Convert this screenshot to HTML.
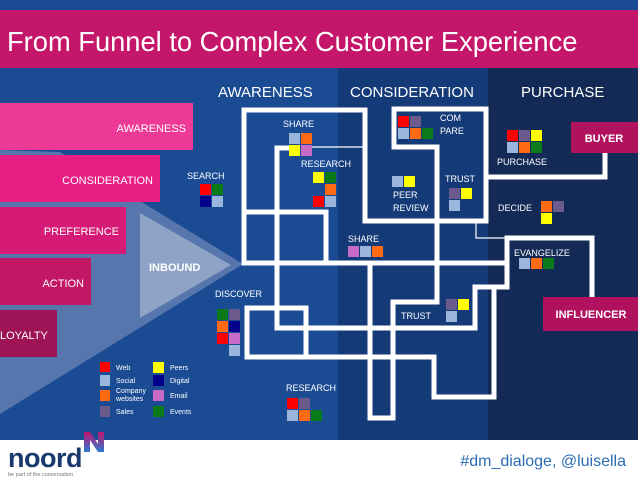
<!DOCTYPE html>
<html><head><meta charset="utf-8"><style>
html,body{margin:0;padding:0;background:#fff}
svg{display:block}
text{font-family:"Liberation Sans",sans-serif}
</style></head><body>
<svg width="638" height="479" viewBox="0 0 638 479" xmlns="http://www.w3.org/2000/svg">
<defs>
<linearGradient id="ng" x1="0" y1="0" x2="0" y2="1"><stop offset="0" stop-color="#c0166e"/><stop offset="1" stop-color="#2a7ad0"/></linearGradient>
</defs>
<rect x="0" y="0" width="638" height="440" fill="#1a4b93"/>
<rect x="338" y="68" width="150" height="372" fill="#153a78"/>
<rect x="488" y="68" width="150" height="372" fill="#122a55"/>
<rect x="0" y="10" width="638" height="58" fill="#c4166a"/>
<text x="7" y="51" font-size="27.3" fill="#fff">From Funnel to Complex Customer Experience</text>

<text x="218" y="97" font-size="15" fill="#fff">AWARENESS</text>
<text x="350" y="97" font-size="15" fill="#fff">CONSIDERATION</text>
<text x="521" y="97" font-size="15" fill="#fff">PURCHASE</text>

<polygon points="0,150 60,152 243,264 0,414" fill="#5676ad"/>
<polygon points="140,213 231,265 140,318" fill="#8ea3c6"/>
<text x="149" y="271" font-size="11" font-weight="bold" fill="#fff">INBOUND</text>

<rect x="0" y="103" width="193" height="47" fill="#ee3a97"/>
<text x="186" y="132" font-size="11" fill="#fff" text-anchor="end">AWARENESS</text>
<rect x="0" y="155" width="160" height="47" fill="#e81e84"/>
<text x="153" y="184" font-size="11" fill="#fff" text-anchor="end">CONSIDERATION</text>
<rect x="0" y="207" width="126" height="47" fill="#d61b76"/>
<text x="119" y="235" font-size="11" fill="#fff" text-anchor="end">PREFERENCE</text>
<rect x="0" y="258" width="91" height="47" fill="#c21765"/>
<text x="84" y="287" font-size="11" fill="#fff" text-anchor="end">ACTION</text>
<rect x="0" y="310" width="57" height="47" fill="#9e1457"/>
<text x="0" y="339" font-size="11" fill="#fff">LOYALTY</text>

<g stroke="#fff" stroke-width="5" fill="none" stroke-linejoin="miter" stroke-linecap="square">
<polyline points="244,263 244,110 365,110 365,221 486,221 486,109 394,109 394,147 437,147 437,302 393,302 393,418 370,418 370,263"/>
<polyline points="244,212 326,212 326,263"/>
<polyline points="244,263 507,263"/>
<polyline points="507,238 592,238 592,297"/>
<polyline points="507,238 507,287 475,287 475,328 277,328 277,148 290,148"/>
<polyline points="494,288 494,397 434,397 434,357 247,357 247,308 306,308 306,355"/>
<polyline points="605,153 605,177 486,177"/>
</g>
<g stroke="#fff" stroke-width="1.2" fill="none">
<line x1="312" y1="147" x2="365" y2="147"/>
<polyline points="476,221 476,238 507,238"/>
</g>

<rect x="571" y="122" width="67" height="31" fill="#b0125e"/>
<text x="604" y="142" font-size="11" font-weight="bold" fill="#fff" text-anchor="middle">BUYER</text>
<rect x="543" y="297" width="95" height="34" fill="#b0125e"/>
<text x="591" y="318" font-size="11" font-weight="bold" fill="#fff" text-anchor="middle">INFLUENCER</text>

<g font-size="9" fill="#fff">
<text x="187" y="179">SEARCH</text>
<text x="283" y="127">SHARE</text>
<text x="301" y="167">RESEARCH</text>
<text x="440" y="121">COM</text>
<text x="440" y="134">PARE</text>
<text x="393" y="198">PEER</text>
<text x="393" y="211">REVIEW</text>
<text x="445" y="182">TRUST</text>
<text x="497" y="165">PURCHASE</text>
<text x="498" y="211">DECIDE</text>
<text x="348" y="242">SHARE</text>
<text x="514" y="256">EVANGELIZE</text>
<text x="401" y="319">TRUST</text>
<text x="215" y="297">DISCOVER</text>
<text x="286" y="391">RESEARCH</text>
</g>

<g>
<rect x="200" y="184" width="11" height="11" fill="#f00"/><rect x="212" y="184" width="11" height="11" fill="#0a7a1a"/>
<rect x="200" y="196" width="11" height="11" fill="#00008b"/><rect x="212" y="196" width="11" height="11" fill="#9bb6dd"/>
<rect x="289" y="133" width="11" height="11" fill="#9bb6dd"/><rect x="301" y="133" width="11" height="11" fill="#ff6a13"/>
<rect x="289" y="145" width="11" height="11" fill="#ff0"/><rect x="301" y="145" width="11" height="11" fill="#c86ac8"/>
<rect x="313" y="172" width="11" height="11" fill="#ff0"/><rect x="325" y="172" width="11" height="11" fill="#0a7a1a"/>
<rect x="325" y="184" width="11" height="11" fill="#ff6a13"/>
<rect x="313" y="196" width="11" height="11" fill="#f00"/><rect x="325" y="196" width="11" height="11" fill="#9bb6dd"/>
<rect x="398" y="116" width="11" height="11" fill="#f00"/><rect x="410" y="116" width="11" height="11" fill="#6b5a8c"/>
<rect x="398" y="128" width="11" height="11" fill="#9bb6dd"/><rect x="410" y="128" width="11" height="11" fill="#ff6a13"/><rect x="422" y="128" width="11" height="11" fill="#0a7a1a"/>
<rect x="392" y="176" width="11" height="11" fill="#9bb6dd"/><rect x="404" y="176" width="11" height="11" fill="#ff0"/>
<rect x="449" y="188" width="11" height="11" fill="#6b5a8c"/><rect x="461" y="188" width="11" height="11" fill="#ff0"/>
<rect x="449" y="200" width="11" height="11" fill="#9bb6dd"/>
<rect x="507" y="130" width="11" height="11" fill="#f00"/><rect x="519" y="130" width="11" height="11" fill="#6b5a8c"/><rect x="531" y="130" width="11" height="11" fill="#ff0"/>
<rect x="507" y="142" width="11" height="11" fill="#9bb6dd"/><rect x="519" y="142" width="11" height="11" fill="#ff6a13"/><rect x="531" y="142" width="11" height="11" fill="#0a7a1a"/>
<rect x="541" y="201" width="11" height="11" fill="#ff6a13"/><rect x="553" y="201" width="11" height="11" fill="#6b5a8c"/>
<rect x="541" y="213" width="11" height="11" fill="#ff0"/>
<rect x="348" y="246" width="11" height="11" fill="#c86ac8"/><rect x="360" y="246" width="11" height="11" fill="#9bb6dd"/><rect x="372" y="246" width="11" height="11" fill="#ff6a13"/>
<rect x="519" y="258" width="11" height="11" fill="#9bb6dd"/><rect x="531" y="258" width="11" height="11" fill="#ff6a13"/><rect x="543" y="258" width="11" height="11" fill="#0a7a1a"/>
<rect x="446" y="299" width="11" height="11" fill="#6b5a8c"/><rect x="458" y="299" width="11" height="11" fill="#ff0"/>
<rect x="446" y="311" width="11" height="11" fill="#9bb6dd"/>
<rect x="217" y="309" width="11" height="11" fill="#0a7a1a"/><rect x="229" y="309" width="11" height="11" fill="#6b5a8c"/>
<rect x="217" y="321" width="11" height="11" fill="#ff6a13"/><rect x="229" y="321" width="11" height="11" fill="#00008b"/>
<rect x="217" y="333" width="11" height="11" fill="#f00"/><rect x="229" y="333" width="11" height="11" fill="#c86ac8"/>
<rect x="229" y="345" width="11" height="11" fill="#9bb6dd"/>
<rect x="287" y="398" width="11" height="11" fill="#f00"/><rect x="299" y="398" width="11" height="11" fill="#6b5a8c"/>
<rect x="287" y="410" width="11" height="11" fill="#9bb6dd"/><rect x="299" y="410" width="11" height="11" fill="#ff6a13"/><rect x="311" y="410" width="11" height="11" fill="#0a7a1a"/>
</g>

<g font-size="7" fill="#fff">
<rect x="100" y="362" width="10" height="10" fill="#f00"/><text x="116" y="370">Web</text>
<rect x="100" y="375" width="10" height="11" fill="#9bb6dd"/><text x="116" y="383">Social</text>
<rect x="100" y="390" width="10" height="11" fill="#ff6a13"/><text x="116" y="393">Company</text><text x="116" y="401">websites</text>
<rect x="100" y="406" width="10" height="11" fill="#6b5a8c"/><text x="116" y="414">Sales</text>
<rect x="153" y="362" width="11" height="11" fill="#ff0"/><text x="170" y="370">Peers</text>
<rect x="153" y="375" width="11" height="11" fill="#00008b"/><text x="170" y="383">Digital</text>
<rect x="153" y="390" width="11" height="11" fill="#c86ac8"/><text x="170" y="398">Email</text>
<rect x="153" y="406" width="11" height="11" fill="#0a7a1a"/><text x="170" y="414">Events</text>
</g>

<rect x="0" y="440" width="638" height="39" fill="#fff"/>
<path d="M84,432 L84,452 L90,452 L90,440 L98,452 L104,452 L104,432 L98,432 L98,444 L90,432 Z" fill="url(#ng)"/>
<text x="8" y="467" font-size="27" font-weight="bold" fill="#1b3a6b" letter-spacing="-0.5">noord</text>
<text x="8" y="476" font-size="5.5" fill="#777">be part of the conversation</text>
<text x="626" y="466" font-size="16" fill="#2a6bb5" text-anchor="end">#dm_dialoge, @luisella</text>
</svg>
</body></html>
